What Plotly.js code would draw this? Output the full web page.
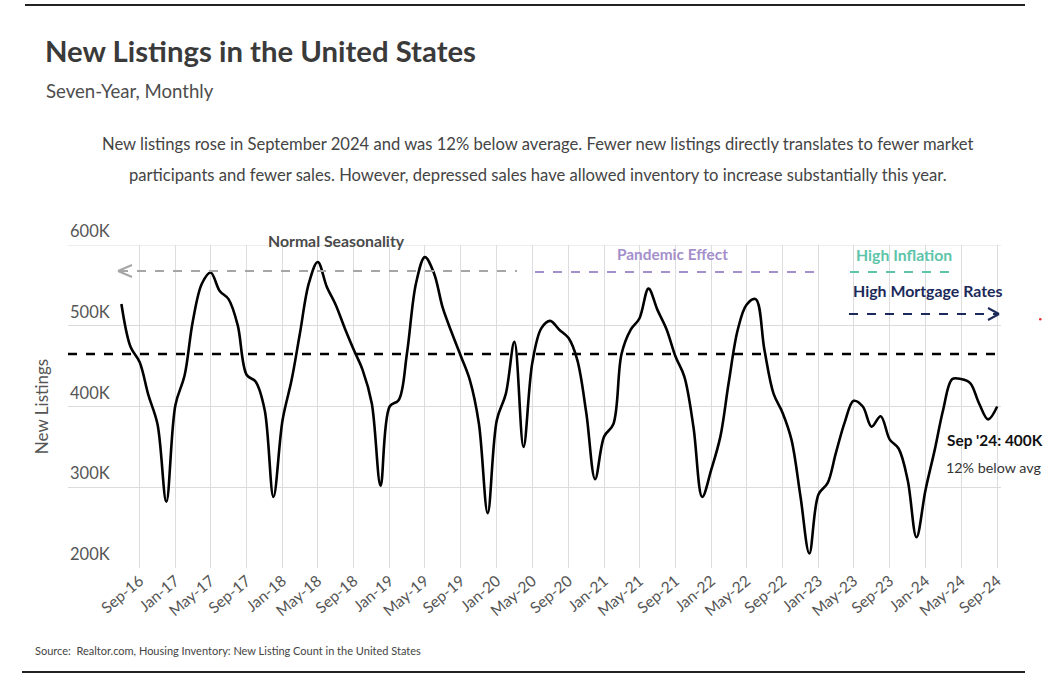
<!DOCTYPE html>
<html>
<head>
<meta charset="utf-8">
<script src="https://cdn.plot.ly/plotly-3.0.1.min.js"></script>
<style>
  html, body { margin: 0; padding: 0; background: #ffffff; }
  #chart { width: 1050px; height: 684px; }
</style>
</head>
<body>
<div id="chart"></div>
<script>
// ---- Data (thousands of new listings, monthly) ----
const months = [
  "2016-07-01","2016-08-01","2016-09-01","2016-10-01","2016-11-01","2016-12-01",
  "2017-01-01","2017-02-01","2017-03-01","2017-04-01","2017-05-01","2017-06-01",
  "2017-07-01","2017-08-01","2017-09-01","2017-10-01","2017-11-01","2017-12-01",
  "2018-01-01","2018-02-01","2018-03-01","2018-04-01","2018-05-01","2018-06-01",
  "2018-07-01","2018-08-01","2018-09-01","2018-10-01","2018-11-01","2018-12-01",
  "2019-01-01","2019-02-01","2019-03-01","2019-04-01","2019-05-01","2019-06-01",
  "2019-07-01","2019-08-01","2019-09-01","2019-10-01","2019-11-01","2019-12-01",
  "2020-01-01","2020-02-01","2020-03-01","2020-04-01","2020-05-01","2020-06-01",
  "2020-07-01","2020-08-01","2020-09-01","2020-10-01","2020-11-01","2020-12-01",
  "2021-01-01","2021-02-01","2021-03-01","2021-04-01","2021-05-01","2021-06-01",
  "2021-07-01","2021-08-01","2021-09-01","2021-10-01","2021-11-01","2021-12-01",
  "2022-01-01","2022-02-01","2022-03-01","2022-04-01","2022-05-01","2022-06-01",
  "2022-07-01","2022-08-01","2022-09-01","2022-10-01","2022-11-01","2022-12-01",
  "2023-01-01","2023-02-01","2023-03-01","2023-04-01","2023-05-01","2023-06-01",
  "2023-07-01","2023-08-01","2023-09-01","2023-10-01","2023-11-01","2023-12-01",
  "2024-01-01","2024-02-01","2024-03-01","2024-04-01","2024-05-01","2024-06-01",
  "2024-07-01","2024-08-01","2024-09-01"
];
const newListings = [
  527, 474, 455, 414, 378, 282,
  402, 438, 505, 552, 566, 543,
  533, 501, 439, 431, 396, 288,
  383, 433, 490, 553, 579, 548,
  526, 497, 470, 445, 404, 302,
  400, 408, 466, 553, 585, 565,
  522, 491, 462, 433, 379, 268,
  383, 416, 480, 350, 454, 497,
  506, 495, 485, 458, 392, 310,
  363, 378, 465, 495, 509, 546,
  520, 496, 462, 437, 375, 288,
  322, 363, 429, 495, 526, 533,
  470, 416, 392, 359, 288, 218,
  291, 305, 342, 381, 407, 400,
  375, 388, 359, 348, 309, 238,
  297, 346, 396, 434, 434, 429,
  404, 384, 400
];
const averageListings = 465;
const xTickValues = [
  "2016-09-01","2017-01-01","2017-05-01","2017-09-01","2018-01-01","2018-05-01",
  "2018-09-01","2019-01-01","2019-05-01","2019-09-01","2020-01-01","2020-05-01",
  "2020-09-01","2021-01-01","2021-05-01","2021-09-01","2022-01-01","2022-05-01",
  "2022-09-01","2023-01-01","2023-05-01","2023-09-01","2024-01-01","2024-05-01",
  "2024-09-01"
];
const xTickLabels = [
  "Sep-16","Jan-17","May-17","Sep-17","Jan-18","May-18",
  "Sep-18","Jan-19","May-19","Sep-19","Jan-20","May-20",
  "Sep-20","Jan-21","May-21","Sep-21","Jan-22","May-22",
  "Sep-22","Jan-23","May-23","Sep-23","Jan-24","May-24",
  "Sep-24"
];
const yTickValues = [200, 300, 400, 500, 600];
const yTickLabels = ["200K", "300K", "400K", "500K", "600K"];

// ---- Layout helpers (pixel -> paper) ----
const L = 68, R = 1001, T = 245, B = 568;
const PX = x => (x - L) / (R - L);
const PY = y => (B - y) / (B - T);

const FONT = "Lato, 'Noto Sans', sans-serif";

const trace = {
  x: months,
  y: newListings,
  type: "scatter",
  mode: "lines",
  line: { color: "#000000", width: 2.6, shape: "spline", smoothing: 1 },
  hoverinfo: "x+y"
};

function hline(x0, x1, y, color, width, dash) {
  return { type: "line", xref: "paper", yref: "paper", x0: PX(x0), x1: PX(x1), y0: PY(y), y1: PY(y),
           line: { color: color, width: width, dash: dash || "solid" } };
}
function seg(xa, ya, xb, yb, color, width) {
  return { type: "line", xref: "paper", yref: "paper", x0: PX(xa), x1: PX(xb), y0: PY(ya), y1: PY(yb),
           line: { color: color, width: width } };
}

const shapes = [
  // top gridline at 600K
  { type: "line", xref: "paper", yref: "y", x0: 0, x1: 1, y0: 600, y1: 600,
    line: { color: "#dcdcdc", width: 1 }, layer: "below" },
  // average line
  { type: "line", xref: "paper", yref: "y", x0: 0, x1: 1, y0: averageListings, y1: averageListings,
    line: { color: "#000000", width: 2.4, dash: "dash" } },
  // Normal seasonality arrow (gray, pointing left)
  hline(119, 517, 271, "#a6a6a6", 2, "dash"),
  seg(118, 271, 132, 265, "#a6a6a6", 2),
  seg(118, 271, 132, 277, "#a6a6a6", 2),
  // Pandemic effect line (purple)
  hline(535, 823, 272, "#a58fcb", 2, "dash"),
  // High inflation line (teal)
  hline(850, 955, 272, "#5ec4a9", 2, "dash"),
  // High mortgage rates arrow (navy, pointing right)
  hline(849, 997, 314, "#1b2a5a", 2, "dash"),
  seg(999, 314, 988, 308, "#1b2a5a", 2),
  seg(999, 314, 988, 320, "#1b2a5a", 2),
  // frame lines
  hline(25, 1025, 5, "#222222", 2),
  hline(22, 1025, 672, "#222222", 2),
  // small red mark
  { type: "circle", xref: "paper", yref: "paper", x0: PX(1039), x1: PX(1041.5), y0: PY(318), y1: PY(320.5),
    fillcolor: "#e0302a", line: { width: 0 } }
];

function ann(text, x, y, size, color, bold, xanchor) {
  return { text: bold ? "<b>" + text + "</b>" : text, xref: "paper", yref: "paper",
           x: PX(x), y: PY(y), xanchor: xanchor || "left", yanchor: "middle",
           showarrow: false, font: { family: FONT, size: size, color: color } };
}

const annotations = [
  ann("New Listings in the United States", 43, 51, 29.3, "#3a3a3a", true, "left"),
  ann("Seven-Year, Monthly", 44, 91, 18.6, "#4d4d4d", false, "left"),
  ann("New listings rose in September 2024 and was 12% below average. Fewer new listings directly translates to fewer market", 538, 144, 16.6, "#444444", false, "center"),
  ann("participants and fewer sales. However, depressed sales have allowed inventory to increase substantially this year.", 538, 175, 16.6, "#444444", false, "center"),
  ann("Normal Seasonality", 336, 240, 15.8, "#4a4a4a", true, "center"),
  ann("Pandemic Effect", 672, 254, 15.4, "#a58fcb", true, "center"),
  ann("High Inflation", 854, 254, 15.8, "#5ec4a9", true, "left"),
  ann("High Mortgage Rates", 851, 290, 15.9, "#1b2a5a", true, "left"),
  ann("Sep '24: 400K", 945, 440, 15.4, "#111111", true, "left"),
  ann("12% below avg", 944, 467, 14.3, "#333333", false, "left"),
  ann("Source:  Realtor.com, Housing Inventory: New Listing Count in the United States", 33, 650, 11, "#444444", false, "left")
];

// y tick labels drawn above their gridlines, inside the plot
yTickValues.forEach((v, i) => {
  annotations.push({
    text: yTickLabels[i], xref: "paper", yref: "y", x: 0, y: v,
    xanchor: "left", yanchor: "bottom", yshift: 2, showarrow: false,
    font: { family: FONT, size: 16.5, color: "#555555" }
  });
});

const layout = {
  width: 1050,
  height: 684,
  margin: { l: L, r: 1050 - R, t: T, b: 684 - B, pad: 0 },
  paper_bgcolor: "#ffffff",
  plot_bgcolor: "#ffffff",
  showlegend: false,
  font: { family: FONT, color: "#555555" },
  xaxis: {
    type: "date",
    range: ["2016-01-01", "2024-09-14"],
    tickmode: "array",
    tickvals: xTickValues,
    ticktext: xTickLabels,
    tickangle: -40,
    tickfont: { family: FONT, size: 15.5, color: "#555555" },
    showgrid: true,
    gridcolor: "#dcdcdc",
    gridwidth: 1,
    zeroline: false,
    showline: false,
    ticks: "",
    fixedrange: true
  },
  yaxis: {
    range: [200, 600],
    tickvals: yTickValues,
    showticklabels: false,
    showgrid: true,
    gridcolor: "#dcdcdc",
    gridwidth: 1,
    zeroline: false,
    showline: false,
    ticks: "",
    title: { text: "New Listings", font: { family: FONT, size: 17, color: "#555555" }, standoff: 14 },
    fixedrange: true
  },
  shapes: shapes,
  annotations: annotations
};

Plotly.newPlot("chart", [trace], layout, { displayModeBar: false, staticPlot: true });
</script>
</body>
</html>
